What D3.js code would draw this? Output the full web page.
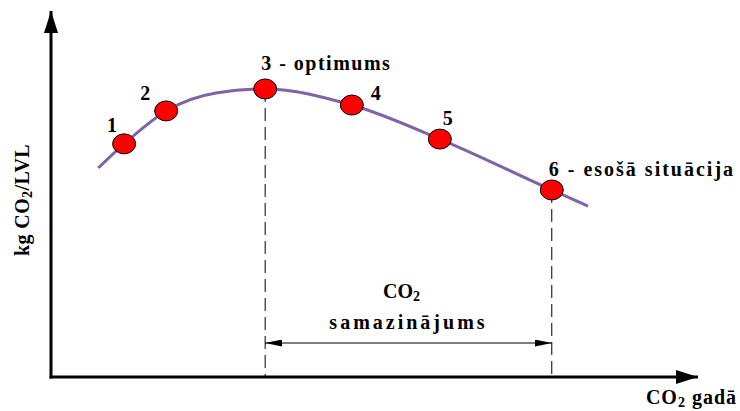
<!DOCTYPE html>
<html>
<head>
<meta charset="utf-8">
<script src="https://cdn.jsdelivr.net/npm/d3@7"></script>
<style>
  body { margin: 0; background: #fff; }
</style>
</head>
<body>
<svg id="chart" width="740" height="411"></svg>
<script>
// curve (arbitrary units 0..100)
const curveX = [7.3, 11.3, 17.8, 25.5, 33.1, 46.5, 60.1, 77.4, 83.0];
const curveY = [57.1, 63.7, 72.7, 77.6, 78.7, 74.3, 65.0, 51.1, 46.7];

// marked points
const pointX = [11.3, 17.8, 33.1, 46.5, 60.1, 77.4];
const pointY = [63.7, 72.7, 78.7, 74.3, 65.0, 51.1];
const pointLabels = ["1", "2", "3 - optimums", "4", "5", "6 - esošā situācija"];

const optimumIndex = 2, currentIndex = 5;
const yTitle = ["kg CO", "2", "/LVL"];
const xTitle = ["CO", "2", " gadā"];
const spanTitle = ["CO", "2"];
const spanSubtitle = "samazinājums";

const FONT = "Liberation Serif";
const svg = d3.select("#chart");

const x = d3.scaleLinear().domain([0, 100]).range([51, 698]),
      y = d3.scaleLinear().domain([0, 100]).range([377, 11]);

const defs = svg.append("defs");
function arrow(id, w, h) {
    defs.append("marker")
        .attr("id", id)
        .attr("viewBox", "0 0 " + w + " " + h)
        .attr("refX", w).attr("refY", h / 2)
        .attr("markerWidth", w).attr("markerHeight", h)
        .attr("markerUnits", "userSpaceOnUse")
        .attr("orient", "auto-start-reverse")
        .append("path")
        .attr("d", "M0,0L" + w + "," + (h / 2) + "L0," + h + "Z")
        .attr("fill", "#000");
}
arrow("axisHead", 22, 14);
arrow("spanHead", 17, 7);

function label(sel) {
    return sel.attr("font-family", FONT).attr("font-weight", "bold").attr("fill", "#000");
}

// axes
svg.append("line")
    .attr("x1", x(0)).attr("y1", y(0) + 1.5)
    .attr("x2", x(0)).attr("y2", y(100))
    .attr("stroke", "#000").attr("stroke-width", 3)
    .attr("marker-end", "url(#axisHead)");
svg.append("line")
    .attr("x1", x(0) - 1.5).attr("y1", y(0))
    .attr("x2", x(100)).attr("y2", y(0))
    .attr("stroke", "#000").attr("stroke-width", 3)
    .attr("marker-end", "url(#axisHead)");

// dashed guides from optimum and current state
[optimumIndex, currentIndex].forEach(i => {
    svg.append("line")
        .attr("x1", x(pointX[i])).attr("y1", y(pointY[i]))
        .attr("x2", x(pointX[i])).attr("y2", y(0))
        .attr("stroke", "#000").attr("stroke-width", 1)
        .attr("stroke-dasharray", "13,6");
});

// span arrow
const spanY = 343;
svg.append("line")
    .attr("x1", x(pointX[optimumIndex])).attr("y1", spanY)
    .attr("x2", x(pointX[currentIndex])).attr("y2", spanY)
    .attr("stroke", "#000").attr("stroke-width", 1)
    .attr("marker-start", "url(#spanHead)")
    .attr("marker-end", "url(#spanHead)");

const spanMid = (x(pointX[optimumIndex]) + x(pointX[currentIndex])) / 2;
const t1 = label(svg.append("text")).attr("x", spanMid - 7).attr("y", 298)
    .attr("text-anchor", "middle").attr("font-size", 20);
t1.append("tspan").text(spanTitle[0]);
t1.append("tspan").attr("dy", 3).attr("font-size", 14).text(spanTitle[1]);
label(svg.append("text")).attr("x", spanMid).attr("y", 329)
    .attr("text-anchor", "middle").attr("font-size", 20)
    .attr("letter-spacing", 3)
    .text(spanSubtitle);

// curve
const line = d3.line()
    .x(d => x(d[0]))
    .y(d => y(d[1]))
    .curve(d3.curveMonotoneX);
svg.append("path")
    .datum(curveX.map((v, i) => [v, curveY[i]]))
    .attr("d", line)
    .attr("fill", "none")
    .attr("stroke", "#7e64a4")
    .attr("stroke-width", 3);

// points
svg.selectAll("ellipse.pt")
    .data(pointX.map((v, i) => [v, pointY[i]]))
    .join("ellipse")
    .attr("class", "pt")
    .attr("cx", d => x(d[0]))
    .attr("cy", d => y(d[1]))
    .attr("rx", 11.5).attr("ry", 10)
    .attr("fill", "#ff0000")
    .attr("stroke", "#000").attr("stroke-width", 1);

// point labels
const labelOffsets = [[-17, -12], [-26, -11], [-4, -19], [19, -5], [3, -14], [-3, -14]];
const labelSpacing = [0, 0, 1.5, 0, 0, 2];
label(svg.selectAll("text.pl")
    .data(pointLabels)
    .join("text"))
    .attr("class", "pl")
    .attr("x", (d, i) => x(pointX[i]) + labelOffsets[i][0])
    .attr("y", (d, i) => y(pointY[i]) + labelOffsets[i][1])
    .attr("font-size", 20)
    .attr("letter-spacing", (d, i) => labelSpacing[i])
    .text(d => d);

// axis titles
const yt = label(svg.append("text"))
    .attr("transform", "translate(29,200) rotate(-90)")
    .attr("text-anchor", "middle")
    .attr("font-size", 20)
    .attr("letter-spacing", 0.4);
yt.append("tspan").text(yTitle[0]);
yt.append("tspan").attr("dy", 3).attr("font-size", 14).text(yTitle[1]);
yt.append("tspan").attr("dy", -3).text(yTitle[2]);

const xt = label(svg.append("text"))
    .attr("x", 737).attr("y", 404)
    .attr("text-anchor", "end")
    .attr("font-size", 20)
    .attr("letter-spacing", 1);
xt.append("tspan").text(xTitle[0]);
xt.append("tspan").attr("dy", 3).attr("font-size", 14).text(xTitle[1]);
xt.append("tspan").attr("dy", -3).text(xTitle[2]);
</script>
</body>
</html>
